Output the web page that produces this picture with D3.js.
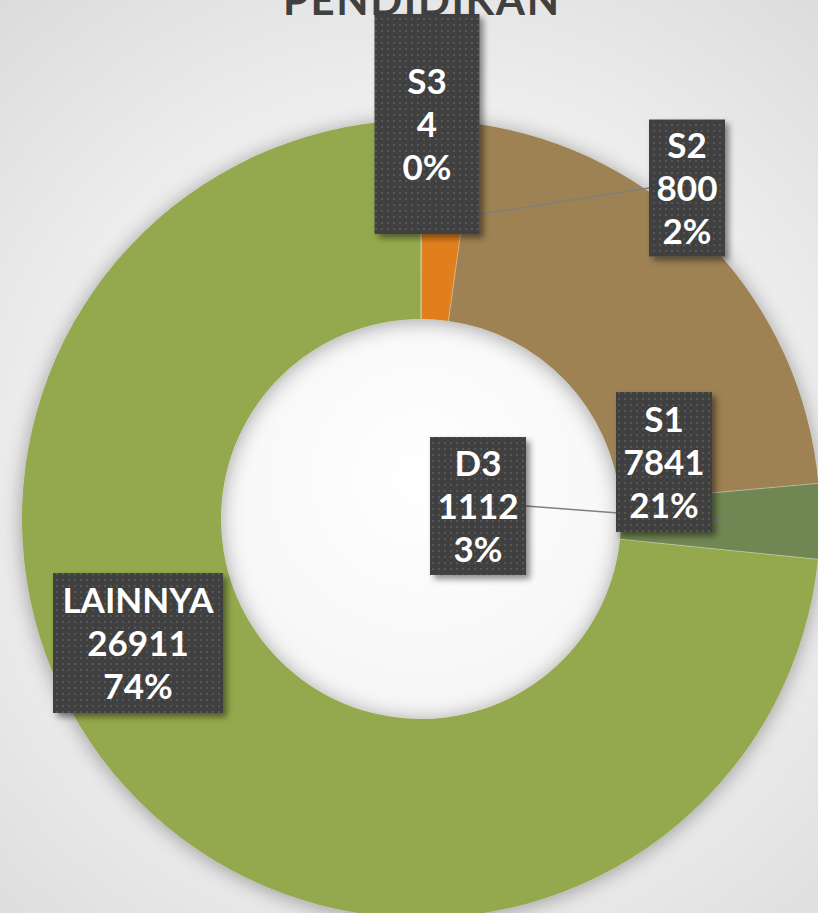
<!DOCTYPE html>
<html>
<head>
<meta charset="utf-8">
<script src="https://cdn.jsdelivr.net/npm/d3@7"></script>
<style>
  html, body { margin: 0; padding: 0; background: #e0e0e0; }
  svg { display: block; }
</style>
</head>
<body>
<svg id="chart"></svg>
<script>
// data
const categories = ['S3', 'S2', 'S1', 'D3', 'LAINNYA'];
const values = [4, 800, 7841, 1112, 26911];
const percentLabels = ['0%', '2%', '21%', '3%', '74%'];
const colors = ['#4f6228', '#e07f1b', '#9e8252', '#718753', '#94a94d'];
const title = 'PENDIDIKAN';

// label boxes were dragged by hand in the original, so their layout is kept here
const labelLayout = {
  S3:      { cx: 427, cy: 124, w: 105, h: 220, leader: false },
  S2:      { cx: 687, cy: 188, w: 76,  h: 137, leader: 'left' },
  S1:      { cx: 664, cy: 462, w: 96,  h: 140, leader: false },
  D3:      { cx: 478, cy: 506, w: 96,  h: 138, leader: 'right' },
  LAINNYA: { cx: 138, cy: 643, w: 170, h: 140, leader: false }
};

const width = 818;
const height = 913;
const cx = 421;
const cy = 519;
const outerR = 399;
const innerR = 200;

const svg = d3.select('#chart')
  .attr('width', width)
  .attr('height', height);

const defs = svg.append('defs');

// page background
const bg = defs.append('radialGradient')
  .attr('id', 'bg')
  .attr('gradientUnits', 'userSpaceOnUse')
  .attr('cx', cx).attr('cy', cy - 40).attr('r', 680);
bg.append('stop').attr('offset', '0').attr('stop-color', '#ffffff');
bg.append('stop').attr('offset', '0.45').attr('stop-color', '#f3f3f3');
bg.append('stop').attr('offset', '1').attr('stop-color', '#d8d8d8');

// soft shadow under the ring
const ringShadow = defs.append('filter')
  .attr('id', 'ringShadow')
  .attr('x', '-20%').attr('y', '-20%').attr('width', '140%').attr('height', '140%');
ringShadow.append('feDropShadow')
  .attr('dx', 0).attr('dy', 2)
  .attr('stdDeviation', 10)
  .attr('flood-color', '#000')
  .attr('flood-opacity', 0.35);

// shadow of the label boxes
const boxShadow = defs.append('filter')
  .attr('id', 'boxShadow')
  .attr('x', '-20%').attr('y', '-20%').attr('width', '150%').attr('height', '150%');
boxShadow.append('feDropShadow')
  .attr('dx', 4).attr('dy', 4)
  .attr('stdDeviation', 3)
  .attr('flood-color', '#000')
  .attr('flood-opacity', 0.45);

// dotted texture of the label boxes
const dots = defs.append('pattern')
  .attr('id', 'dots')
  .attr('patternUnits', 'userSpaceOnUse')
  .attr('width', 6).attr('height', 6);
dots.append('rect').attr('width', 6).attr('height', 6).attr('fill', '#3f3f3f');
dots.append('rect').attr('x', 2).attr('y', 2).attr('width', 2).attr('height', 2).attr('fill', '#575757');

svg.append('rect')
  .attr('width', width)
  .attr('height', height)
  .attr('fill', 'url(#bg)');

// title, mostly cut off at the top edge like in the original
svg.append('text')
  .attr('x', cx)
  .attr('y', 15)
  .attr('text-anchor', 'middle')
  .attr('font-family', 'Lato, "DejaVu Sans", sans-serif')
  .attr('font-weight', 'bold')
  .attr('font-size', 42)
  .attr('textLength', 276)
  .attr('lengthAdjust', 'spacing')
  .attr('fill', '#404040')
  .text(title);

const data = categories.map((c, i) => ({
  category: c,
  value: values[i],
  pct: percentLabels[i],
  color: colors[i]
}));

const pie = d3.pie()
  .sort(null)
  .value(d => d.value);

const arc = d3.arc()
  .innerRadius(innerR)
  .outerRadius(outerR);

const arcs = pie(data);

const ring = svg.append('g')
  .attr('transform', `translate(${cx},${cy})`)
  .attr('filter', 'url(#ringShadow)');

ring.selectAll('path')
  .data(arcs)
  .enter()
  .append('path')
  .attr('d', arc)
  .attr('fill', d => d.data.color);

// thin light separators between slices
ring.selectAll('line.sep')
  .data(arcs)
  .enter()
  .append('line')
  .attr('class', 'sep')
  .attr('x1', d => innerR * Math.sin(d.startAngle))
  .attr('y1', d => -innerR * Math.cos(d.startAngle))
  .attr('x2', d => outerR * Math.sin(d.startAngle))
  .attr('y2', d => -outerR * Math.cos(d.startAngle))
  .attr('stroke', 'rgba(255,255,255,0.35)')
  .attr('stroke-width', 1);

// leader lines from the boxes to the middle of their slice
const leaders = svg.append('g');
arcs.forEach(a => {
  const lay = labelLayout[a.data.category];
  if (!lay.leader) return;
  const [px, py] = arc.centroid(a);
  const x0 = lay.leader === 'left' ? lay.cx - lay.w / 2 : lay.cx + lay.w / 2;
  leaders.append('line')
    .attr('x1', x0).attr('y1', lay.cy)
    .attr('x2', cx + px).attr('y2', cy + py)
    .attr('stroke', '#7f7f7f')
    .attr('stroke-width', 1.5);
});

// label boxes, drawn in reverse so S3 sits on top of the S2 leader
const labels = svg.append('g');
arcs.slice().reverse().forEach(a => {
  const lay = labelLayout[a.data.category];
  const g = labels.append('g')
    .attr('transform', `translate(${lay.cx},${lay.cy})`);

  g.append('rect')
    .attr('x', -lay.w / 2).attr('y', -lay.h / 2)
    .attr('width', lay.w).attr('height', lay.h)
    .attr('fill', 'url(#dots)')
    .attr('filter', 'url(#boxShadow)');

  const lines = [a.data.category, String(a.data.value), a.data.pct];
  const lineGap = 43;
  g.selectAll('text')
    .data(lines)
    .enter()
    .append('text')
    .attr('x', 0)
    .attr('y', (d, i) => (i - 1) * lineGap + 13)
    .attr('text-anchor', 'middle')
    .attr('font-family', 'Lato, "DejaVu Sans", sans-serif')
    .attr('font-weight', 'bold')
    .attr('font-size', 35)
    .attr('fill', '#ffffff')
    .text(d => d);
});
</script>
</body>
</html>
